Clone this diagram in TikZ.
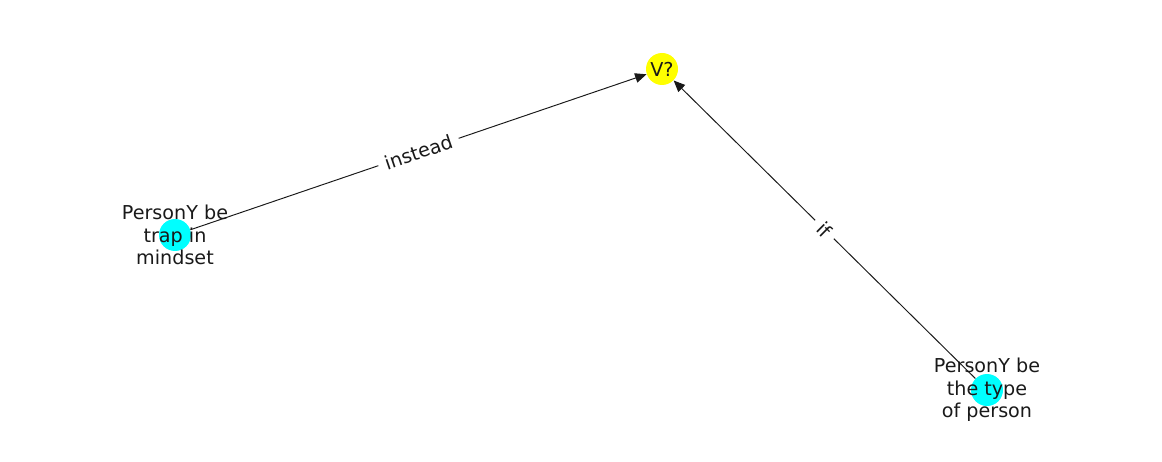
\documentclass[tikz,border=0pt]{standalone}
\usepackage{fontspec}
\setmainfont{DejaVu Sans}
\usetikzlibrary{arrows.meta}
\definecolor{nodecyan}{RGB}{0,255,255}
\definecolor{nodeyellow}{RGB}{255,255,0}
\begin{document}
\begin{tikzpicture}[x=0.02cm,y=-0.02cm,font=\fontsize{10.9}{12.8}\selectfont,>={Triangle[length=6.5pt,width=5.5pt]},
  dot/.style={circle,fill=nodecyan,minimum size=0.64cm,inner sep=0pt},
  query/.style={dot,fill=nodeyellow},
  txt/.style={align=center,inner sep=0pt,text=black!90},
  flow/.style={->,line width=0.55pt,black!90},
  tag/.style={fill=white,inner sep=4pt,sloped,text=black!90}]
\useasboundingbox (0,0) rectangle (1162,462);
\node[query] (v) at (662,69) {};
\node[dot] (trap) at (175,235) {};
\node[dot] (type) at (987,390) {};
\draw[flow] (trap) -- node[tag]{instead} (v);
\draw[flow] (type) -- node[tag]{if} (v);

\node[txt] (vtext) at (v) {V?};
\node[txt] (traptext) at (trap) {PersonY be\\trap in\\mindset};
\node[txt] (typetext) at (type) {PersonY be\\the type\\of person};
\end{tikzpicture}
\end{document}
